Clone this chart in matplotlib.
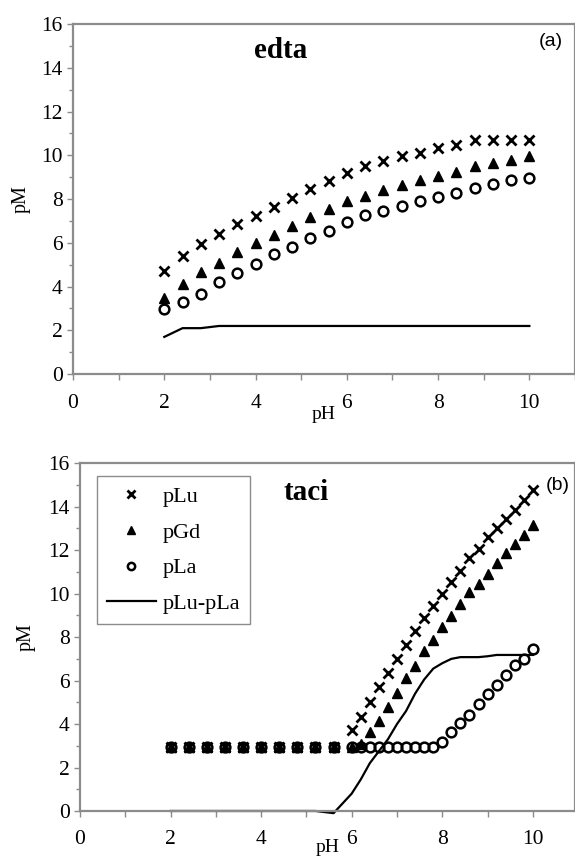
import matplotlib
matplotlib.use('Agg')
import matplotlib.pyplot as plt
from matplotlib.ticker import MultipleLocator

# (a) edta
ph_a = [2.0, 2.4, 2.8, 3.2, 3.6, 4.0, 4.4, 4.8, 5.2, 5.6, 6.0,
        6.4, 6.8, 7.2, 7.6, 8.0, 8.4, 8.8, 9.2, 9.6, 10.0]
plu_a = [4.73, 5.40, 5.95, 6.41, 6.86, 7.23, 7.66, 8.07, 8.48, 8.84, 9.21,
         9.51, 9.76, 9.97, 10.09, 10.32, 10.47, 10.70, 10.70, 10.70, 10.70]
pgd_a = [3.50, 4.10, 4.65, 5.10, 5.60, 6.00, 6.35, 6.75, 7.20, 7.55, 7.90,
         8.15, 8.40, 8.65, 8.85, 9.05, 9.25, 9.50, 9.65, 9.80, 9.95]
pla_a = [2.97, 3.28, 3.68, 4.20, 4.62, 5.05, 5.48, 5.80, 6.21, 6.54, 6.97,
         7.28, 7.47, 7.70, 7.91, 8.11, 8.30, 8.52, 8.71, 8.86, 8.98]
dif_a = [1.70, 2.10, 2.10, 2.20, 2.20, 2.20, 2.20, 2.20, 2.20, 2.20, 2.20,
         2.20, 2.20, 2.20, 2.20, 2.20, 2.20, 2.20, 2.20, 2.20, 2.20]

# (b) taci
ph_b = [2.0, 2.4, 2.8, 3.2, 3.6, 4.0, 4.4, 4.8, 5.2, 5.6,
        6.0, 6.2, 6.4, 6.6, 6.8, 7.0, 7.2, 7.4, 7.6, 7.8, 8.0,
        8.2, 8.4, 8.6, 8.8, 9.0, 9.2, 9.4, 9.6, 9.8, 10.0]
plu_b = [2.95, 2.95, 2.95, 2.95, 2.95, 2.95, 2.95, 2.95, 2.95, 2.95,
         3.73, 4.34, 5.03, 5.72, 6.36, 7.01, 7.62, 8.28, 8.89, 9.41, 9.98,
         10.55, 11.05, 11.63, 12.07, 12.62, 13.03, 13.45, 13.87, 14.33, 14.79]
pgd_b = [2.95, 2.95, 2.95, 2.95, 2.95, 2.95, 2.95, 2.95, 2.95, 2.95,
         2.95, 3.10, 3.63, 4.15, 4.80, 5.41, 6.10, 6.68, 7.35, 7.85, 8.46,
         8.99, 9.53, 10.06, 10.44, 10.90, 11.43, 11.89, 12.27, 12.68, 13.14]
pla_b = [2.95, 2.95, 2.95, 2.95, 2.95, 2.95, 2.95, 2.95, 2.95, 2.95,
         2.95, 2.95, 2.95, 2.95, 2.95, 2.95, 2.95, 2.95, 2.95, 2.95, 3.17,
         3.63, 4.04, 4.42, 4.91, 5.38, 5.79, 6.25, 6.74, 7.01, 7.47]
dif_b = [0.0, 0.0, 0.0, 0.0, 0.0, 0.0, 0.0, 0.0, 0.0, -0.1,
         0.80, 1.45, 2.20, 2.75, 3.30, 4.00, 4.60, 5.40, 6.05, 6.55, 6.80,
         7.00, 7.08, 7.08, 7.08, 7.12, 7.18, 7.18, 7.18, 7.18, 7.18]

SERIF = 'Liberation Serif'
SANS = 'Liberation Sans'
GREY = '#8c8c8c'

fig = plt.figure(figsize=(5.75, 8.6), dpi=100)
ax_a = fig.add_axes([0.127, 0.565, 0.873, 0.407])
ax_b = fig.add_axes([0.139, 0.057, 0.861, 0.4043])


def style_axes(ax, xmax):
    ax.set_xlim(0, xmax)
    ax.set_ylim(0, 16)
    ax.xaxis.set_major_locator(MultipleLocator(2))
    ax.xaxis.set_minor_locator(MultipleLocator(1))
    ax.yaxis.set_major_locator(MultipleLocator(2))
    ax.yaxis.set_minor_locator(MultipleLocator(1))
    for s in ax.spines.values():
        s.set_color(GREY)
        s.set_linewidth(1.6)
    ax.tick_params(axis='x', which='both', direction='out', length=4,
                   width=1, color=GREY, pad=10)
    ax.tick_params(axis='y', which='major', direction='out', length=4.5,
                   width=1, color=GREY, pad=3)
    ax.tick_params(axis='y', which='minor', direction='out', length=3,
                   width=1, color=GREY)
    for lab in ax.get_xticklabels() + ax.get_yticklabels():
        lab.set_fontfamily(SERIF)
        lab.set_fontsize(15.5)
    ax.set_xlabel('pH', fontfamily=SERIF, fontsize=14)
    ax.set_ylabel('pM', fontfamily=SERIF, fontsize=14.5)


def draw(ax, x, lu, gd, la, dif):
    ax.plot(x, lu, linestyle='none', marker='x', markersize=7,
            markeredgewidth=2, color='black', label='pLu', clip_on=False)
    ax.plot(x, gd, linestyle='none', marker='^', markersize=7,
            color='black', label='pGd', clip_on=False)
    ax.plot(x, la, linestyle='none', marker='o', markersize=7,
            markeredgewidth=1.8, markerfacecolor='none', color='black',
            label='pLa', clip_on=False)
    ax.plot(x, dif, color='black', linewidth=1.6, label='pLu-pLa',
            clip_on=False)


draw(ax_a, ph_a, plu_a, pgd_a, pla_a, dif_a)
style_axes(ax_a, 11)
ax_a.xaxis.set_label_coords(0.5, -0.09)
ax_a.yaxis.set_label_coords(-0.085, 0.5)
ax_a.text(4.55, 14.43, 'edta', fontfamily=SERIF, fontweight='bold',
          fontsize=21, ha='center', va='baseline')
ax_a.text(10.46, 15.2, '(a)', fontfamily=SANS, fontsize=14,
          ha='center', va='center')

draw(ax_b, ph_b, plu_b, pgd_b, pla_b, dif_b)
style_axes(ax_b, 10.93)
ax_b.xaxis.set_label_coords(0.5, -0.082)
ax_b.yaxis.set_label_coords(-0.09, 0.5)
ax_b.text(5.0, 14.32, 'taci', fontfamily=SERIF, fontweight='bold',
          fontsize=21, ha='center', va='baseline')
ax_b.text(10.55, 15.0, '(b)', fontfamily=SANS, fontsize=14,
          ha='center', va='center')

leg = ax_b.legend(loc='upper left', bbox_to_anchor=(0.034, 0.962),
                  borderaxespad=0, fancybox=False, framealpha=1,
                  edgecolor=GREY, handlelength=2.2, handletextpad=0.3,
                  borderpad=0.45, labelspacing=0.68, markerscale=0.75,
                  prop={'family': SERIF, 'size': 16})
leg.get_frame().set_linewidth(1.0)

fig.savefig('out.png', dpi=100)
